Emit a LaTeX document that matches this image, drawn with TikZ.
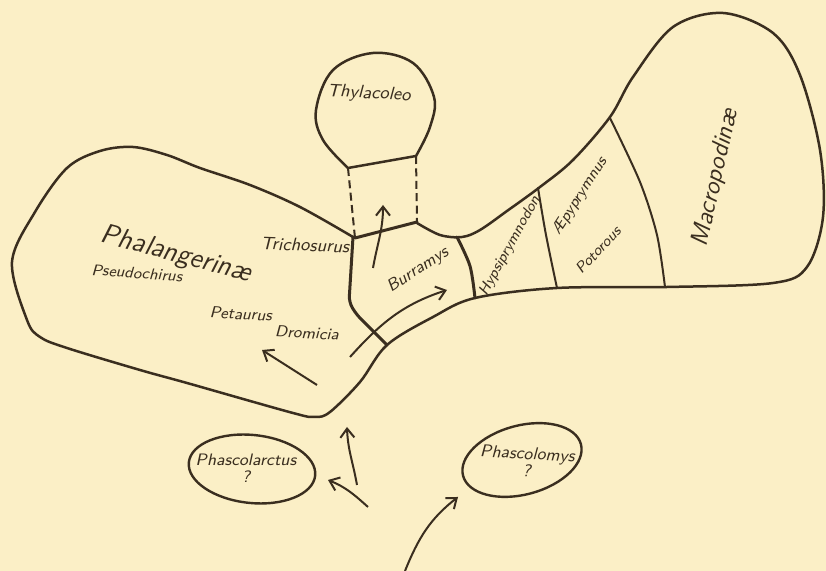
\documentclass[tikz,border=0pt]{standalone}
\usepackage{tikz}
\usetikzlibrary{arrows.meta,positioning,calc,shapes.geometric}
\definecolor{Ink}{HTML}{3A2E1F}
\definecolor{Paper}{HTML}{FBEFC6}

\begin{document}
\begin{tikzpicture}[
    x=0.5pt, y=-0.5pt,
    edge/.style={draw=Ink,line width=1.25pt,line join=round,line cap=round},
    wall/.style={draw=Ink,line width=1.5pt,line join=round,line cap=round},
    part/.style={draw=Ink,line width=1pt,line cap=round},
    neck/.style={draw=Ink,line width=1pt,dash pattern=on 4pt off 2.2pt},
    ring/.style={ellipse,draw=Ink,line width=1.2pt,inner sep=0pt},
    lbl/.style={text=Ink,inner sep=0pt,align=center,
      font=\sffamily\itshape\fontsize{#1}{#1}\selectfont},
    lbl/.default=8,
    arr/.style={draw=Ink,line width=1pt,-{Straight Barb[length=4.5pt,width=7pt]}},
  ]
  % Paper
  \fill[Paper] (0,0) rectangle (826,571);
  \useasboundingbox (0,0) rectangle (826,571);
  % Outer outline - Phalangerinae round to Macropodinae
  \draw[edge] plot[smooth,tension=0.55] coordinates {
    (353,237) (300,207) (250,185) (200,168) (167,155) (133,147) (100,151)
    (67,168) (35,212) (12,262) (27,320) (40,337) (67,348) (140,370)
    (187,383) (293,413) (315,417) (330,412) (360,382) (387,345) (433,317)
    (475,298) (557,288) (667,287) (773,283) (807,267) (823,217) (820,150)
    (800,75) (773,33) (723,13) (673,27) (633,77) (610,117) (573,160)
    (540,187) (507,211) (480,230) (462,237) (440,235) (417,223)};
  % Thylacoleo
  \draw[edge] plot[smooth,tension=0.6] coordinates {
    (348,168) (323,140) (316,110) (333,70) (373,53) (413,63) (434,97)
    (430,127) (416,156)} -- (348,168);
  \draw[neck] (348,168) -- (355,238);
  \draw[neck] (416,156) -- (417,222);
  \draw[wall] (355,238) -- (417,222);
  % Burramys
  \draw[wall,rounded corners=3pt] (353,237) -- (349,302) -- (356,314) -- (387,345);
  \draw[wall] plot[smooth] coordinates {(457,237) (470,266) (475,298)};
  % Potoroinae
  \draw[part] plot[smooth] coordinates {(538,188) (546,235) (557,288)};
  \draw[part] plot[smooth] coordinates {(610,118) (640,182) (657,235) (665,287)};
  % Side groups
  \node[ring,minimum width=63.5pt,minimum height=34pt,rotate=-6] (koalaRing) at (252,469) {};
  \node[ring,minimum width=61pt,minimum height=34.5pt,rotate=15] (wombatRing) at (522,460) {};
  % Labels
  \node[lbl=9,rotate=-3] (thylacoleo) at (369,94) {Thylacoleo};
  \node[lbl=14,rotate=-15] (phalangerinae) at (176,255) {Phalanger\-in\ae};
  \node[lbl=7.8,rotate=-4] (pseudochirus) at (137,273) {Pseudochirus};
  \node[lbl=9,rotate=-2] (trichosurus) at (305,245) {Trichosurus};
  \node[lbl=8,rotate=-3] (petaurus) at (241,314) {Petaurus};
  \node[lbl=8,rotate=-3] (dromicia) at (307,333) {Dromicia};
  \node[lbl=8.5,rotate=33] (burramys) at (418,270) {Burramys};
  \node[lbl=7.5,rotate=61] (hypsiprymnodon) at (510,246) {Hypsiprymnodon};
  \node[lbl=7.8,rotate=57] (aepyprymnus) at (580,196) {\AE pyprymnus};
  \node[lbl=7.5,rotate=47] (potorous) at (598,250) {Potorous};
  \node[lbl=12.5,rotate=77] (macropodinae) at (716,178) {Macropodin\ae};
  \node[lbl=8.3] (phascolarctus) at (246,468) {Phascolarctus\\?};
  \node[lbl=8.6,rotate=-3] (phascolomys) at (527,462) {Phascolomys\\?};
  % Arrows
  \coordinate (upS) at (373,268);
  \coordinate (upE) at (383,205);
  \coordinate (burS) at (350,357);
  \coordinate (burE) at (447,290);
  \coordinate (petS) at (317,385);
  \coordinate (petE) at (262,350);
  \coordinate (rootA) at (357,485);
  \coordinate (phalE) at (347,427);
  \coordinate (rootB) at (368,507);
  \coordinate (koalaE) at (328,480);
  \coordinate (base) at (405,571);
  \coordinate (wombE) at (458,497);
  \draw[arr] (upS) to[out=80,in=-90] (upE);
  \draw[arr] (burS) to[out=48,in=198] (burE);
  \draw[arr] (petS) -- (petE);
  \draw[arr] (rootA) to[out=100,in=-88] (phalE);
  \draw[arr] (rootB) to[out=138,in=-22] (koalaE);
  \draw[arr] (base) to[out=68,in=218] (wombE);
\end{tikzpicture}
\end{document}
